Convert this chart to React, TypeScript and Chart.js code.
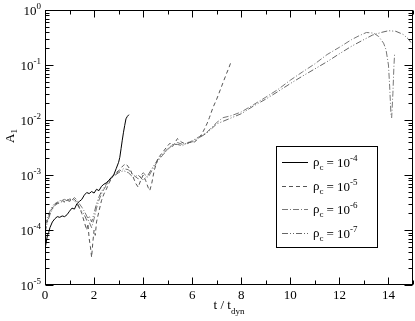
import React, { useEffect, useRef } from "react";
import { Chart, registerables } from "chart.js";
Chart.register(...registerables);

// rho_c = 1e-4 (solid)
const t4 = [0, 0.05, 0.1, 0.15, 0.2, 0.3, 0.4, 0.5, 0.6, 0.7, 0.8, 0.9, 1.0, 1.1, 1.2, 1.3, 1.4, 1.5, 1.6, 1.7, 1.8, 1.9, 2.0, 2.1, 2.2, 2.3, 2.4, 2.5, 2.6, 2.7, 2.8, 2.9, 3.0, 3.05, 3.1, 3.15, 3.2, 3.25, 3.3, 3.35, 3.42];
const a4 = [4.5e-5, 6e-5, 8e-5, 9e-5, 1.1e-4, 1.4e-4, 1.6e-4, 1.75e-4, 1.7e-4, 1.8e-4, 1.75e-4, 1.9e-4, 2.2e-4, 2.5e-4, 2.4e-4, 3.0e-4, 3.3e-4, 3.6e-4, 4.3e-4, 4.8e-4, 4.6e-4, 5.0e-4, 4.7e-4, 5.5e-4, 5.2e-4, 6.2e-4, 6.8e-4, 7.2e-4, 8.0e-4, 9.0e-4, 1.0e-3, 1.3e-3, 1.7e-3, 2.1e-3, 3.0e-3, 4.3e-3, 6.0e-3, 8.0e-3, 1.05e-2, 1.15e-2, 1.25e-2];

// rho_c = 1e-5 (dashed)
const t5 = [0, 0.1, 0.2, 0.3, 0.4, 0.5, 0.6, 0.7, 0.8, 0.9, 1.0, 1.1, 1.2, 1.3, 1.4, 1.5, 1.6, 1.7, 1.75, 1.8, 1.85, 1.9, 1.95, 2.0, 2.05, 2.1, 2.2, 2.3, 2.4, 2.5, 2.6, 2.7, 2.8, 2.9, 3.0, 3.1, 3.2, 3.3, 3.4, 3.5, 3.6, 3.7, 3.8, 3.9, 4.0, 4.1, 4.2, 4.27, 4.35, 4.45, 4.6, 4.8, 5.0, 5.1, 5.2, 5.4, 5.55, 5.7, 5.9, 6.1, 6.3, 6.45, 6.6, 6.7, 6.85, 7.0, 7.25, 7.4, 7.5, 7.6];
const a5 = [1.0e-4, 1.5e-4, 2.0e-4, 2.5e-4, 2.9e-4, 3.1e-4, 3.3e-4, 3.4e-4, 3.3e-4, 3.6e-4, 3.5e-4, 3.8e-4, 3.6e-4, 3.2e-4, 2.6e-4, 2.0e-4, 1.4e-4, 1.0e-4, 1.3e-4, 7e-5, 5e-5, 3.2e-5, 6e-5, 1.0e-4, 8e-5, 1.4e-4, 2.2e-4, 3.4e-4, 4.5e-4, 5.5e-4, 7e-4, 8.5e-4, 1.0e-3, 1.1e-3, 1.2e-3, 1.35e-3, 1.5e-3, 1.6e-3, 1.4e-3, 1.2e-3, 9e-4, 7e-4, 6e-4, 8e-4, 1.0e-3, 8e-4, 6e-4, 5.2e-4, 7e-4, 1.2e-3, 2.0e-3, 2.6e-3, 3.4e-3, 3.8e-3, 3.3e-3, 4.6e-3, 4.0e-3, 3.7e-3, 3.9e-3, 4.0e-3, 4.8e-3, 6.2e-3, 8.5e-3, 1.1e-2, 1.7e-2, 2.4e-2, 4.7e-2, 7e-2, 9e-2, 1.2e-1];

// rho_c = 1e-6 (dash-dot)
const t6 = [0, 0.1, 0.2, 0.3, 0.4, 0.5, 0.6, 0.7, 0.8, 0.9, 1.0, 1.1, 1.2, 1.3, 1.4, 1.5, 1.6, 1.7, 1.8, 1.9, 2.0, 2.1, 2.2, 2.3, 2.4, 2.6, 2.8, 3.0, 3.2, 3.4, 3.6, 3.8, 4.0, 4.2, 4.4, 4.6, 4.8, 5.0, 5.2, 5.4, 5.6, 5.8, 6.0, 6.3, 6.6, 7.0, 7.25, 7.6, 8.0, 8.5, 9.0, 9.5, 10.0, 10.5, 11.0, 11.5, 12.0, 12.5, 12.8, 13.1, 13.4, 13.6, 13.8, 13.9, 14.0, 14.05, 14.1, 14.13, 14.18, 14.22, 14.25];
const a6 = [1.2e-4, 1.7e-4, 2.2e-4, 2.7e-4, 3.0e-4, 3.2e-4, 3.4e-4, 3.5e-4, 3.6e-4, 3.4e-4, 3.7e-4, 3.5e-4, 3.9e-4, 3.5e-4, 3.0e-4, 2.6e-4, 2.2e-4, 1.8e-4, 1.4e-4, 1.1e-4, 1.6e-4, 2.5e-4, 3.5e-4, 4.5e-4, 5.5e-4, 7.5e-4, 1.0e-3, 1.15e-3, 1.3e-3, 1.25e-3, 1.0e-3, 8.5e-4, 1.1e-3, 9e-4, 1.3e-3, 1.8e-3, 2.3e-3, 2.9e-3, 3.5e-3, 3.9e-3, 3.6e-3, 3.7e-3, 4.2e-3, 5.0e-3, 6.0e-3, 9e-3, 1.1e-2, 1.2e-2, 1.4e-2, 1.9e-2, 2.6e-2, 3.6e-2, 5.3e-2, 7.5e-2, 1.05e-1, 1.55e-1, 2.1e-1, 2.9e-1, 3.4e-1, 3.9e-1, 3.8e-1, 3.3e-1, 2.5e-1, 1.9e-1, 1.0e-1, 4e-2, 1.3e-2, 1.1e-2, 3e-2, 9e-2, 1.6e-1];

// rho_c = 1e-7 (dash-dot-dot)
const t7 = [0, 0.1, 0.2, 0.3, 0.4, 0.5, 0.6, 0.7, 0.8, 0.9, 1.0, 1.1, 1.2, 1.3, 1.4, 1.5, 1.6, 1.7, 1.8, 1.9, 2.0, 2.1, 2.2, 2.3, 2.4, 2.6, 2.8, 3.0, 3.2, 3.4, 3.6, 3.8, 4.0, 4.2, 4.4, 4.6, 4.8, 5.0, 5.2, 5.4, 5.6, 5.8, 6.0, 6.3, 6.6, 7.0, 7.5, 8.0, 8.5, 9.0, 9.5, 10.0, 10.5, 11.0, 11.5, 12.0, 12.5, 13.0, 13.35, 13.7, 14.0, 14.3, 14.6, 14.8, 15.0];
const a7 = [9e-5, 1.4e-4, 1.9e-4, 2.4e-4, 2.8e-4, 3.0e-4, 3.1e-4, 3.3e-4, 3.2e-4, 3.5e-4, 3.3e-4, 3.6e-4, 3.4e-4, 3.0e-4, 2.5e-4, 2.2e-4, 1.9e-4, 1.5e-4, 1.8e-4, 1.4e-4, 2.0e-4, 3.0e-4, 4.0e-4, 5.0e-4, 5.8e-4, 8.0e-4, 9.5e-4, 1.1e-3, 1.2e-3, 1.1e-3, 9e-4, 1.0e-3, 8e-4, 1.0e-3, 1.4e-3, 1.9e-3, 2.4e-3, 3.0e-3, 3.6e-3, 3.6e-3, 3.4e-3, 3.9e-3, 4.0e-3, 4.8e-3, 5.8e-3, 8.5e-3, 1.05e-2, 1.3e-2, 1.8e-2, 2.4e-2, 3.3e-2, 4.6e-2, 6.3e-2, 8.5e-2, 1.15e-1, 1.6e-1, 2.2e-1, 2.9e-1, 3.5e-1, 3.9e-1, 4.2e-1, 4.1e-1, 3.6e-1, 3.0e-1, 2.3e-1];

const legendExponents = ["-4", "-5", "-6", "-7"];
const xTickLabels = [0, 2, 4, 6, 8, 10, 12, 14];
const yDecades = [0, -1, -2, -3, -4, -5];

const styles = [
  { color: "#000000", dash: [] as number[] },
  { color: "#555555", dash: [4, 3] },
  { color: "#777777", dash: [6, 2, 1, 2] },
  { color: "#666666", dash: [6, 2, 1, 2, 1, 2] },
];

const FONT = "'Liberation Serif', 'DejaVu Serif', serif";

const axesPlugin = {
  id: "customAxes",
  afterDraw(chart: any) {
    const ctx = chart.ctx as CanvasRenderingContext2D;
    const { left, right, top, bottom } = chart.chartArea;
    const xs = chart.scales.x;
    const ys = chart.scales.y;
    ctx.save();
    ctx.strokeStyle = "#000";
    ctx.lineWidth = 1;
    ctx.setLineDash([]);
    const L = Math.round(left) + 0.5, R = Math.round(right) - 0.5, T = Math.round(top) + 0.5, B = Math.round(bottom) - 0.5;
    ctx.strokeRect(L, T, R - L, B - T);
    ctx.beginPath();
    for (let t = 0; t <= 15; t++) {
      const px = Math.round(xs.getPixelForValue(t)) + 0.5;
      const len = t % 2 === 0 ? 7 : 4;
      ctx.moveTo(px, B); ctx.lineTo(px, B - len);
      ctx.moveTo(px, T); ctx.lineTo(px, T + len);
    }
    for (let d = -5; d <= 0; d++) {
      const py = Math.round(ys.getPixelForValue(Math.pow(10, d))) + 0.5;
      ctx.moveTo(L, py); ctx.lineTo(L + 8, py);
      ctx.moveTo(R, py); ctx.lineTo(R - 8, py);
      if (d < 0) {
        for (let m = 2; m <= 9; m++) {
          const pm = Math.round(ys.getPixelForValue(m * Math.pow(10, d))) + 0.5;
          ctx.moveTo(L, pm); ctx.lineTo(L + 4, pm);
          ctx.moveTo(R, pm); ctx.lineTo(R - 4, pm);
        }
      }
    }
    ctx.stroke();

    ctx.fillStyle = "#000";
    // x tick labels
    ctx.font = `13px ${FONT}`;
    ctx.textAlign = "center";
    ctx.textBaseline = "alphabetic";
    xTickLabels.forEach((v) => {
      ctx.fillText(String(v), xs.getPixelForValue(v), 299);
    });
    // y tick labels with superscripts
    yDecades.forEach((d) => {
      const py = ys.getPixelForValue(Math.pow(10, d));
      const sup = d === 0 ? "0" : String(d);
      ctx.font = `9px ${FONT}`;
      const sw = ctx.measureText(sup).width;
      ctx.textAlign = "left";
      const supX = 41 - sw;
      ctx.fillText(sup, supX, py - 1);
      ctx.font = `13px ${FONT}`;
      ctx.textAlign = "right";
      ctx.fillText("10", supX, py + 5);
    });
    // x title
    ctx.font = `13px ${FONT}`;
    ctx.textAlign = "left";
    const main = "t / t";
    const mw = ctx.measureText(main).width;
    ctx.font = `9px ${FONT}`;
    const subw = ctx.measureText("dyn").width;
    const startX = 229 - (mw + subw) / 2;
    ctx.font = `13px ${FONT}`;
    ctx.fillText(main, startX, 309);
    ctx.font = `9px ${FONT}`;
    ctx.fillText("dyn", startX + mw, 314);
    // y title
    ctx.save();
    ctx.translate(14, 137);
    ctx.rotate(-Math.PI / 2);
    ctx.font = `13px ${FONT}`;
    ctx.textAlign = "left";
    const aw = ctx.measureText("A").width;
    ctx.fillText("A", -6, 0);
    ctx.font = `9px ${FONT}`;
    ctx.fillText("1", -6 + aw, 3);
    ctx.restore();

    // legend
    const bx = 276.5, by = 146.5, bw = 101, bh = 101;
    ctx.fillStyle = "#fff";
    ctx.fillRect(bx, by, bw, bh);
    ctx.strokeStyle = "#000";
    ctx.lineWidth = 1;
    ctx.strokeRect(bx, by, bw, bh);
    legendExponents.forEach((e, i) => {
      const ry = 162 + i * 23.7;
      const st = styles[i];
      ctx.strokeStyle = st.color;
      ctx.setLineDash(st.dash);
      ctx.beginPath();
      ctx.moveTo(282, Math.round(ry) + 0.5);
      ctx.lineTo(308, Math.round(ry) + 0.5);
      ctx.stroke();
      ctx.setLineDash([]);
      ctx.fillStyle = "#000";
      ctx.textAlign = "left";
      let x = 313;
      ctx.font = `13px ${FONT}`;
      ctx.fillText("ρ", x, ry + 4);
      x += ctx.measureText("ρ").width;
      ctx.font = `9px ${FONT}`;
      ctx.fillText("c", x, ry + 8);
      x += ctx.measureText("c").width + 3;
      ctx.font = `13px ${FONT}`;
      const eq = "= 10";
      ctx.fillText(eq, x, ry + 5);
      x += ctx.measureText(eq).width;
      ctx.font = `9px ${FONT}`;
      ctx.fillText(e, x, ry - 1);
    });
    ctx.restore();
  },
};

function pts(t: number[], a: number[]) {
  return t.map((x, i) => ({ x, y: a[i] }));
}

export default function App() {
  const ref = useRef<HTMLCanvasElement>(null);
  useEffect(() => {
    if (!ref.current) return;
    const series = [pts(t4, a4), pts(t5, a5), pts(t6, a6), pts(t7, a7)];
    const chart = new Chart(ref.current, {
      type: "line",
      data: {
        datasets: series.map((d, i) => ({
          label: "rho_c = 10^" + legendExponents[i],
          data: d,
          borderColor: styles[i].color,
          borderDash: styles[i].dash,
          borderWidth: 1,
          pointRadius: 0,
          tension: 0,
          fill: false,
        })),
      },
      options: {
        responsive: false,
        animation: false,
        layout: { padding: { left: 45, top: 10, right: 2, bottom: 36 } },
        scales: {
          x: { type: "linear", min: 0, max: 15, display: false },
          y: { type: "logarithmic", min: 1e-5, max: 1, display: false },
        },
        plugins: { legend: { display: false }, tooltip: { enabled: false } },
      },
      plugins: [axesPlugin],
    });
    return () => chart.destroy();
  }, []);
  return (
    <div style={{ position: "fixed", left: 0, top: 0, width: 415, height: 321, background: "#fff" }}>
      <canvas ref={ref} width={415} height={321} />
    </div>
  );
}
